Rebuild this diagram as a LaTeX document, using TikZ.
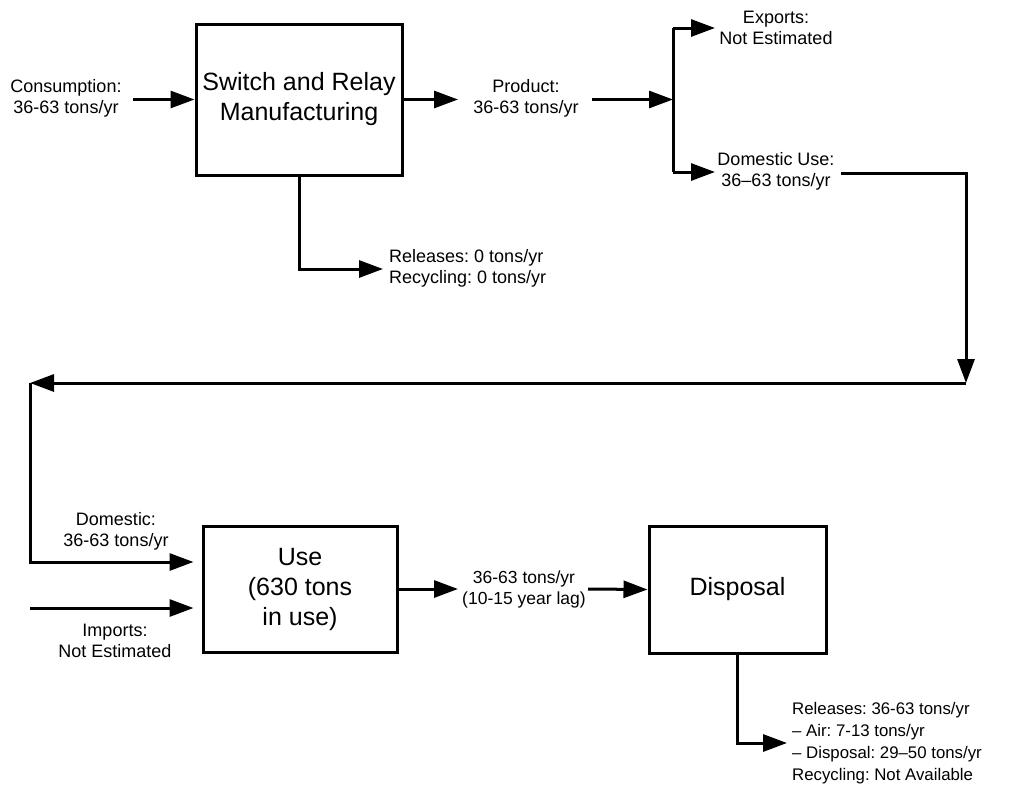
\documentclass[tikz,border=0pt]{standalone}
\usepackage{fontspec}
\setmainfont{Liberation Sans}
\usetikzlibrary{arrows.meta,calc}
\frenchspacing
\begin{document}
\begin{tikzpicture}[x=1pt,y=-1pt,
  flow/.style={line width=3pt,-{Triangle[length=24pt,width=17pt]}},
  wire/.style={line width=3pt},
  stage/.style={draw,line width=3pt,align=center,inner sep=0pt,
    font=\fontsize{25}{30}\selectfont},
  lbl/.style={align=center,inner sep=0pt,font=\fontsize{18}{21}\selectfont},
  lbll/.style={align=left,inner sep=0pt,anchor=west,font=\fontsize{18}{21}\selectfont}]
\useasboundingbox (0,0) rectangle (1036,785);

% process boxes
\node[stage,minimum width=206pt,minimum height=151pt] (mfg) at (299,99.5) {Switch and Relay\\Manufacturing};
\node[stage,minimum width=194pt,minimum height=126pt] (use) at (300,589) {Use\\(630 tons\\in use)};
\node[stage,minimum width=177pt,minimum height=127pt] (disp) at (737.5,589.5) {Disposal};

% labels
\node[lbl] (cons) at (66,98) {Consumption:\\36-63 tons/yr};
\node[lbl] (prod) at (526,98) {Product:\\36-63 tons/yr};
\node[lbl] (exp) at (776,28) {Exports:\\Not Estimated};
\node[lbl] (dom) at (776,171) {Domestic Use:\\36--63 tons/yr};
\node[lbll] (rel1) at (389,268.5) {Releases: 0 tons/yr\\Recycling: 0 tons/yr};
\node[lbl] (domin) at (116,531) {Domestic:\\36-63 tons/yr};
\node[lbl] (imp) at (115,641) {Imports:\\Not Estimated};
\node[lbl,font=\fontsize{17.5}{21}\selectfont] (lag) at (524,589) {36-63 tons/yr\\(10-15 year lag)};
\node[lbll,font=\fontsize{16.8}{21.8}\selectfont] (rel2) at (792,743) {Releases: 36-63 tons/yr\\-- Air: 7-13 tons/yr\\-- Disposal: 29--50 tons/yr\\Recycling: Not Available};

% junction points
\coordinate (cin) at (133,99.5);
\coordinate (pout) at (458,99.5);
\coordinate (pin) at (592,99.5);
\coordinate (split) at (673,99.5);
\coordinate (expto) at (715,28);
\coordinate (domto) at (715,172);
\coordinate (domfrom) at (841,173);
\coordinate (rdown) at (966,383);
\coordinate (lcorner) at (30,383);
\coordinate (mfgto) at (383,269);
\coordinate (impfrom) at (30,608);
\coordinate (lagout) at (458,589);
\coordinate (lagin) at (588,589);
\coordinate (dispto) at (787,743);

% manufacturing flows
\draw[flow] (cin) -- (mfg.west);
\draw[flow] (mfg.east) -- (pout);
\draw[flow] (mfg.south) |- (mfgto);
\draw[flow] (pin) -- (split);
\draw[wire] (expto -| split) -- (domto -| split);
\draw[flow] (expto -| split) -- (expto);
\draw[flow] (domto -| split) -- (domto);

% return loop to use
\draw[flow] (domfrom) -| (rdown);
\draw[flow] (rdown) -- (lcorner);
\draw[flow] (lcorner) |- ($(use.west)+(-8,-27)$);
\draw[flow] (impfrom) -- ($(use.west)+(-8,19)$);

% use and disposal
\draw[flow] (use.east) -- (lagout);
\draw[flow] (lagin) -- (disp.west);
\draw[flow] (disp.south) |- (dispto);
\end{tikzpicture}
\end{document}
